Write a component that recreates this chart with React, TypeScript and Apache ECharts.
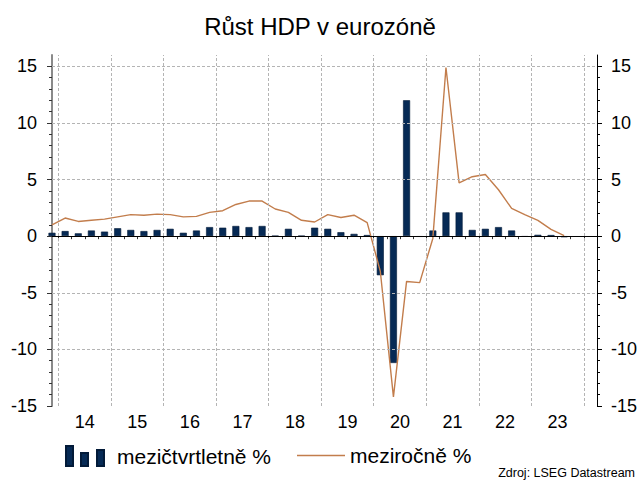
import React, { useEffect, useRef } from "react";
import * as echarts from "echarts";

const quarters = [
  "2013Q4",
  "2014Q1", "2014Q2", "2014Q3", "2014Q4",
  "2015Q1", "2015Q2", "2015Q3", "2015Q4",
  "2016Q1", "2016Q2", "2016Q3", "2016Q4",
  "2017Q1", "2017Q2", "2017Q3", "2017Q4",
  "2018Q1", "2018Q2", "2018Q3", "2018Q4",
  "2019Q1", "2019Q2", "2019Q3", "2019Q4",
  "2020Q1", "2020Q2", "2020Q3", "2020Q4",
  "2021Q1", "2021Q2", "2021Q3", "2021Q4",
  "2022Q1", "2022Q2", "2022Q3", "2022Q4",
  "2023Q1", "2023Q2", "2023Q3",
];

// mezičtvrtletně % (quarter on quarter)
const qoq = [
  0.3,
  0.45, 0.25, 0.5, 0.4,
  0.7, 0.55, 0.45, 0.55,
  0.65, 0.3, 0.5, 0.8,
  0.75, 0.9, 0.8, 0.9,
  0.03, 0.65, 0.03, 0.75,
  0.65, 0.35, 0.2, 0.1,
  -3.45, -11.2, 12.0, -0.06,
  0.5, 2.1, 2.1, 0.55,
  0.65, 0.8, 0.5, -0.05,
  0.12, 0.1, -0.1,
];

// meziročně % (year on year)
const yoy = [
  1.0,
  1.6, 1.3, 1.4, 1.5,
  1.7, 1.9, 1.85, 1.95,
  1.9, 1.7, 1.75, 2.1,
  2.25, 2.8, 3.1, 3.1,
  2.4, 2.1, 1.4, 1.25,
  1.9, 1.65, 1.85, 1.2,
  -3.1, -14.2, -4.0, -4.1,
  -0.2, 14.9, 4.7, 5.25,
  5.45, 4.1, 2.45, 1.9,
  1.4, 0.6, 0.05,
];

const yearLabels = ["14", "15", "16", "17", "18", "19", "20", "21", "22", "23"];
const yTicks = [-15, -10, -5, 0, 5, 10, 15];
const yMinorTicks = [
  -14, -13, -12, -11, -9, -8, -7, -6, -4, -3, -2, -1,
  1, 2, 3, 4, 6, 7, 8, 9, 11, 12, 13, 14,
];
const yGrid = [-10, -5, 5, 10, 15];

const SERIES_BAR = "mezičtvrtletně %";
const SERIES_LINE = "meziročně %";

const FONT = "'Liberation Sans', Arial, sans-serif";
const LINE_COLOR = "#c27d4c";

function quarterToX(q: string): number {
  const year = parseInt(q.slice(0, 4), 10);
  const qn = parseInt(q.slice(5), 10);
  return year + (qn - 0.5) / 4;
}

export default function App() {
  const ref = useRef<HTMLDivElement>(null);

  useEffect(() => {
    document.body.style.margin = "0";
    if (!ref.current) return;
    const chart = echarts.init(ref.current, null, { renderer: "svg" });

    const years = yearLabels.map((y) => 2000 + parseInt(y, 10));
    const yearBounds = [...years, years[years.length - 1] + 1];
    const quarterBounds: number[] = [];
    years.forEach((y) => {
      quarterBounds.push(y + 0.25, y + 0.5, y + 0.75);
    });

    const xMin = quarterToX(quarters[0]);
    const xMax = 2024.25;
    const yMin = -15;
    const yMax = 16;

    const barData = quarters.map((q, i) => [quarterToX(q), qoq[i]]);
    const lineData = quarters.map((q, i) => [quarterToX(q), yoy[i]]);

    const gridStyle = { color: "#b4b4b4", type: [3, 2] as any, width: 1 };

    const baseX = {
      type: "value" as const,
      min: xMin,
      max: xMax,
      position: "bottom" as const,
      splitLine: { show: false },
    };
    const baseY = {
      type: "value" as const,
      min: yMin,
      max: yMax,
      splitLine: { show: false },
    };

    chart.setOption({
      animation: false,
      textStyle: { fontFamily: FONT },
      title: {
        text: "Růst HDP v eurozóně",
        left: "center",
        top: 9,
        textStyle: { fontFamily: FONT, fontSize: 24, fontWeight: "normal", color: "#000" },
      },
      grid: { left: 52, right: 42, top: 55, bottom: 75 },
      xAxis: [
        {
          ...baseX,
          axisLine: { show: true, lineStyle: { color: "#333", width: 1 } },
          axisTick: { show: false },
          axisLabel: {
            customValues: years.map((y) => y + 0.5),
            formatter: (v: number) => String(Math.round(v - 0.5) - 2000),
            fontSize: 18,
            color: "#000",
            margin: 7,
            fontFamily: FONT,
          },
        },
        {
          ...baseX,
          axisLine: { show: false },
          axisLabel: { show: false },
          axisTick: {
            show: true,
            customValues: yearBounds,
            length: 5,
            lineStyle: { color: "#333" },
          },
        },
        {
          ...baseX,
          axisLine: { show: false },
          axisLabel: { show: false },
          axisTick: {
            show: true,
            customValues: quarterBounds.filter((v) => v < xMax),
            length: 3,
            lineStyle: { color: "#333" },
          },
        },
      ],
      yAxis: [
        {
          ...baseY,
          position: "left",
          axisLine: { show: true, lineStyle: { color: "#8a8a8a", width: 2 } },
          axisTick: { show: true, customValues: yTicks, length: 5, lineStyle: { color: "#333" } },
          axisLabel: {
            customValues: yTicks,
            fontSize: 18,
            color: "#000",
            margin: 15,
            fontFamily: FONT,
          },
        },
        {
          ...baseY,
          position: "left",
          axisLine: { show: false },
          axisLabel: { show: false },
          axisTick: { show: true, customValues: yMinorTicks, length: 3, lineStyle: { color: "#333" } },
        },
        {
          ...baseY,
          position: "right",
          axisLine: { show: true, lineStyle: { color: "#000", width: 1 } },
          axisTick: { show: true, customValues: yTicks, length: 5, lineStyle: { color: "#000" } },
          axisLabel: {
            customValues: yTicks,
            fontSize: 18,
            color: "#000",
            margin: 14,
            fontFamily: FONT,
          },
        },
        {
          ...baseY,
          position: "right",
          axisLine: { show: false },
          axisLabel: { show: false },
          axisTick: { show: true, customValues: yMinorTicks, length: 3, lineStyle: { color: "#000" } },
        },
      ],
      legend: [
        {
          data: [
            {
              name: SERIES_BAR,
              icon: "path://M0 0H7V20H0Z M15 7H22V20H15Z M31 4H38V20H31Z",
            },
          ],
          left: 60,
          top: 440,
          itemWidth: 38,
          itemHeight: 20,
          formatter: (n: string) => `{t|${n}}`,
          textStyle: {
            fontFamily: FONT,
            fontSize: 21,
            color: "#000",
            rich: { t: { fontFamily: FONT, fontSize: 21, color: "#000", padding: [0, 0, 0, 8] } },
          },
          selectedMode: false,
        },
        {
          data: [{ name: SERIES_LINE, icon: "rect", itemStyle: { color: LINE_COLOR } }],
          left: 292,
          top: 440,
          itemWidth: 48,
          itemHeight: 1.5,
          textStyle: { fontFamily: FONT, fontSize: 21, color: "#000" },
          selectedMode: false,
        },
      ],
      graphic: [
        {
          type: "text",
          right: 5,
          top: 466,
          style: {
            text: "Zdroj: LSEG Datastream",
            font: `12.5px ${FONT}`,
            fill: "#000",
          },
        },
      ],
      series: [
        {
          name: "grid",
          type: "line",
          data: [],
          xAxisIndex: 0,
          yAxisIndex: 0,
          z: 1,
          silent: true,
          markLine: {
            silent: true,
            symbol: ["none", "none"],
            label: { show: false },
            emphasis: { disabled: true },
            lineStyle: gridStyle,
            data: [
              ...yearBounds.filter((v) => v < xMax).map((v) => ({ xAxis: v })),
              ...yGrid.map((v) => ({ yAxis: v })),
            ],
          },
        },
        {
          name: SERIES_BAR,
          type: "bar",
          data: barData,
          xAxisIndex: 0,
          yAxisIndex: 0,
          barWidth: 7,
          z: 2,
          itemStyle: { color: "#062a55", borderColor: "#021a38", borderWidth: 0.6 },
          markLine: {
            silent: true,
            symbol: ["none", "none"],
            label: { show: false },
            emphasis: { disabled: true },
            lineStyle: { color: "#000", type: "solid", width: 1 },
            data: [{ yAxis: 0 }],
          },
        },
        {
          name: SERIES_LINE,
          type: "line",
          data: lineData,
          xAxisIndex: 0,
          yAxisIndex: 0,
          z: 3,
          showSymbol: false,
          symbol: "none",
          lineStyle: { color: LINE_COLOR, width: 1.4 },
          itemStyle: { color: LINE_COLOR },
        },
      ],
    });

    return () => chart.dispose();
  }, []);

  return <div ref={ref} style={{ width: 640, height: 481 }} />;
}
